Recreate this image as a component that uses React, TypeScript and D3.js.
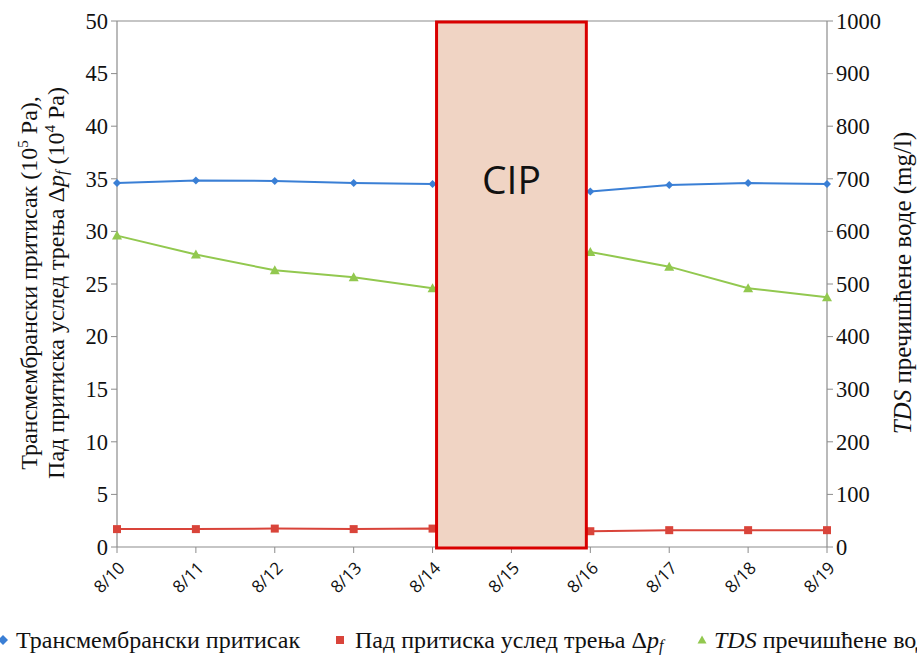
import React from "react";
import * as d3 from "d3";

const dates = ["8/10", "8/11", "8/12", "8/13", "8/14", "8/15", "8/16", "8/17", "8/18", "8/19"];
const tmp: (number | null)[] = [34.6, 34.85, 34.8, 34.6, 34.5, null, 33.8, 34.4, 34.6, 34.5];
const dpf: (number | null)[] = [1.7, 1.7, 1.75, 1.7, 1.75, null, 1.5, 1.6, 1.6, 1.6];
const tds: (number | null)[] = [592, 556, 526, 513, 492, null, 561, 533, 492, 475];
const leftTicks = [0, 5, 10, 15, 20, 25, 30, 35, 40, 45, 50];
const rightTicks = [0, 100, 200, 300, 400, 500, 600, 700, 800, 900, 1000];
const cipStart = "8/14";
const cipEnd = "8/16";

const W = 917, H = 656;
const L = 117, R = 827, T = 21, B = 547;

export default function App() {
  const x = d3.scalePoint<string>().domain(dates).range([L, R]);
  const yL = d3.scaleLinear().domain([0, 50]).range([B, T]);
  const yR = d3.scaleLinear().domain([0, 1000]).range([B, T]);

  const mk = (vals: (number | null)[]) =>
    dates.map((d, i) => ({ d, v: vals[i] })).filter((p) => p.v != null) as { d: string; v: number }[];

  const line = (y: d3.ScaleLinear<number, number>) =>
    d3.line<{ d: string; v: number }>().x((p) => x(p.d)!).y((p) => y(p.v));

  const blue = mk(tmp), red = mk(dpf), green = mk(tds);
  const cx0 = x(cipStart)! + 4, cx1 = x(cipEnd)! - 4;
  const serif = "\"Liberation Serif\", \"Times New Roman\", Times, \"DejaVu Serif\", serif";
  const sans = "\"Open Sans\", \"Liberation Sans\", sans-serif";
  const sf = { fontFamily: serif } as React.CSSProperties;
  const ss = { fontFamily: sans } as React.CSSProperties;
  const axisCol = "#8c8c8c";
  const blueC = "#3a7fd5", redC = "#d9443a", greenC = "#92c84f";

  const tri = (cx: number, cy: number, s: number) =>
    `M${cx},${cy - s} L${cx + s},${cy + s * 0.8} L${cx - s},${cy + s * 0.8} Z`;
  const dia = (cx: number, cy: number, s: number) =>
    `M${cx},${cy - s} L${cx + s},${cy} L${cx},${cy + s} L${cx - s},${cy} Z`;

  return (
    <svg width={W} height={H} style={{ position: "absolute", left: 0, top: 0, background: "#fff" }}>
      <line x1={L} x2={R} y1={T} y2={T} stroke={axisCol} strokeWidth={1.2} />
      <line x1={L} x2={R} y1={B} y2={B} stroke={axisCol} strokeWidth={1.2} />
      <line x1={L} x2={L} y1={T} y2={B} stroke={axisCol} strokeWidth={1.2} />
      <line x1={R} x2={R} y1={T} y2={B} stroke={axisCol} strokeWidth={1.2} />
      {leftTicks.map((t) => (
        <g key={"l" + t}>
          <line x1={L - 6} x2={L} y1={yL(t)} y2={yL(t)} stroke={axisCol} />
          <text x={L - 9} y={yL(t)} dy="0.35em" textAnchor="end" style={sf} fontSize={22.5} fill="#111">{t}</text>
        </g>
      ))}
      {rightTicks.map((t) => (
        <g key={"r" + t}>
          <line x1={R} x2={R + 6} y1={yR(t)} y2={yR(t)} stroke={axisCol} />
          <text x={R + 9} y={yR(t)} dy="0.35em" textAnchor="start" style={sf} fontSize={22.5} fill="#111">{t}</text>
        </g>
      ))}
      {dates.map((d) => (
        <g key={"x" + d}>
          <line x1={x(d)!} x2={x(d)!} y1={B} y2={B + 6} stroke={axisCol} />
          <text transform={`translate(${x(d)! + 9},${B + 22}) rotate(-45)`} textAnchor="end" style={ss} fontSize={17} fill="#111">{d}</text>
        </g>
      ))}
      <path d={line(yL)(blue)!} fill="none" stroke={blueC} strokeWidth={2} />
      <path d={line(yR)(green)!} fill="none" stroke={greenC} strokeWidth={2} />
      <path d={line(yL)(red)!} fill="none" stroke={redC} strokeWidth={2} />
      {blue.map((p) => <path key={"b" + p.d} d={dia(x(p.d)!, yL(p.v), 4)} fill={blueC} />)}
      {green.map((p) => <path key={"g" + p.d} d={tri(x(p.d)!, yR(p.v), 5)} fill={greenC} />)}
      {red.map((p) => <rect key={"r" + p.d} x={x(p.d)! - 4} y={yL(p.v) - 4} width={8} height={8} fill={redC} />)}
      <rect x={cx0} y={T + 1} width={cx1 - cx0} height={B - T} fill="#f0d4c4" stroke="#d90000" strokeWidth={3} />
      <text x={(cx0 + cx1) / 2} y={194} textAnchor="middle" style={ss} fontSize={39} fill="#111">CIP</text>
      <text transform={`translate(37,283) rotate(-90)`} textAnchor="middle" style={sf} fontSize={24} fill="#111">
        Трансмембрански притисак (10<tspan dy={-9} fontSize={15}>5</tspan><tspan dy={9}> Pa),</tspan>
      </text>
      <text transform={`translate(64,283) rotate(-90)`} textAnchor="middle" style={sf} fontSize={24} fill="#111">
        Пад притиска услед трења Δ<tspan fontStyle="italic">p</tspan><tspan fontStyle="italic" fontSize={16} dy={3}>f</tspan><tspan dy={-3}> (10</tspan><tspan dy={-9} fontSize={15}>4</tspan><tspan dy={9}> Pa)</tspan>
      </text>
      <text transform={`translate(911,283) rotate(-90)`} textAnchor="middle" style={sf} fontSize={25} fill="#111">
        <tspan fontStyle="italic">TDS</tspan> пречишћене воде  (mg/l)
      </text>
      <path d={dia(3, 640, 5)} fill={blueC} />
      <text x={16} y={648} style={sf} fontSize={24} fill="#111">Трансмембрански притисак</text>
      <rect x={336} y={636} width={8} height={8} fill={redC} />
      <text x={355} y={648} style={sf} fontSize={24} fill="#111">
        Пад притиска услед трења Δ<tspan fontStyle="italic">p</tspan><tspan fontStyle="italic" fontSize={16} dy={3}>f</tspan>
      </text>
      <path d={tri(702, 640, 4.5)} fill={greenC} />
      <text x={714} y={648} style={sf} fontSize={24} fill="#111">
        <tspan fontStyle="italic">TDS</tspan> пречишћене воде
      </text>
    </svg>
  );
}
